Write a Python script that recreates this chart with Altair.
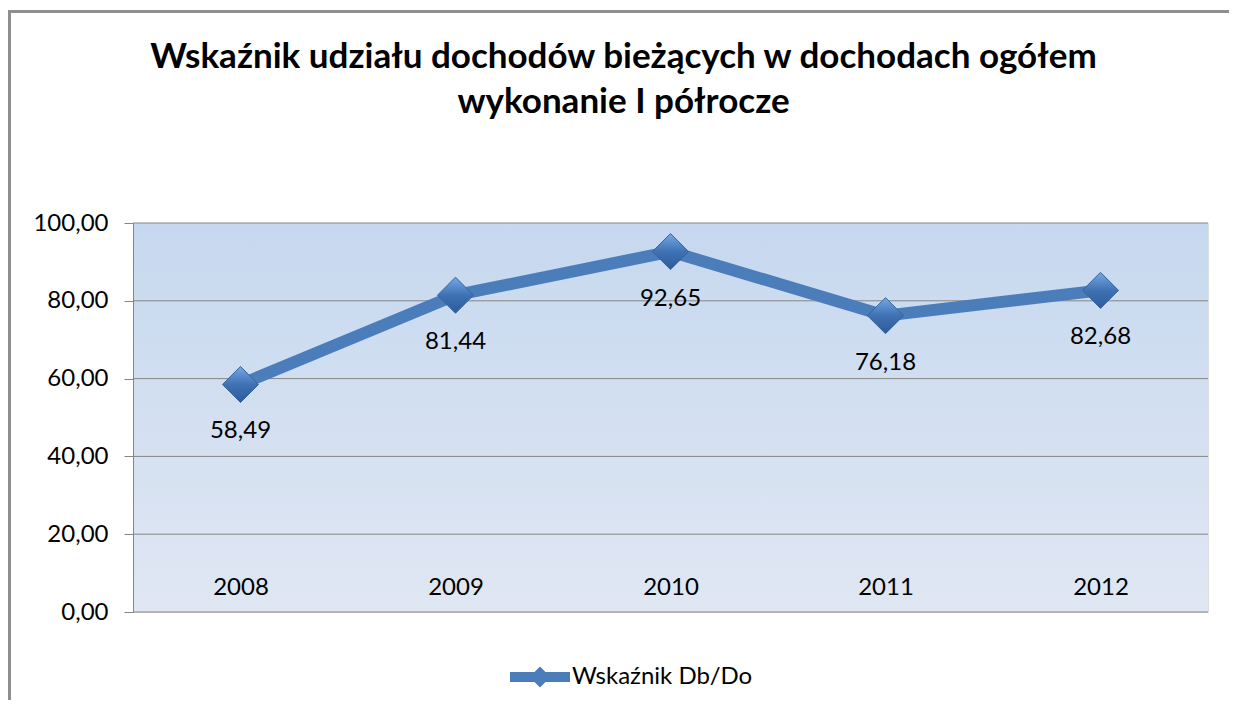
import altair as alt
import pandas as pd

years = ["2008", "2009", "2010", "2011", "2012"]
values = [58.49, 81.44, 92.65, 76.18, 82.68]
labels = ["58,49", "81,44", "92,65", "76,18", "82,68"]
series_name = "Wskaźnik Db/Do"
grid_values = [0, 20, 40, 60, 80, 100]
title_lines = ["Wskaźnik udziału dochodów bieżących w dochodach ogółem", "wykonanie I półrocze"]

df = pd.DataFrame({"year": years, "value": values, "label": labels, "series": [series_name] * len(years)})
grid_df = pd.DataFrame({"g": grid_values})
bg_df = pd.DataFrame({"top": [100], "bottom": [0]})
one = pd.DataFrame({"a": [0]})

W, H = 1075, 389
FONT = "Lato"
LINE_COLOR = "#4A7DBA"
FS = 24

yscale = alt.Scale(domain=[0, 100])

bg = alt.Chart(bg_df).mark_rect(
    color=alt.LinearGradient(
        gradient="linear",
        stops=[alt.GradientStop(color="#C6D8EF", offset=0), alt.GradientStop(color="#E0E7F3", offset=1)],
        x1=0, x2=0, y1=0, y2=1,
    )
).encode(x=alt.value(0), x2=alt.value(W), y=alt.Y("top:Q", scale=yscale), y2="bottom:Q")

grid = alt.Chart(grid_df).mark_rule(color="#868686", strokeWidth=1).encode(
    y=alt.Y("g:Q", scale=yscale), x=alt.value(0), x2=alt.value(W)
)

base = alt.Chart(df)
x_enc = alt.X(
    "year:N",
    scale=alt.Scale(domain=years),
    axis=alt.Axis(
        title=None, ticks=False, domain=False, grid=False, labelAngle=0,
        labelFont=FONT, labelFontSize=FS, labelColor="#000000",
        labelPadding=-25, labelBaseline="middle", zindex=1,
    ),
)
y_enc = alt.Y(
    "value:Q",
    scale=yscale,
    axis=alt.Axis(
        title=None, values=grid_values, grid=False, domain=True, domainColor="#868686",
        ticks=True, tickSize=9, tickColor="#868686", labelPadding=16,
        labelFont=FONT, labelFontSize=FS, labelColor="#000000", zindex=1,
        labelExpr="replace(format(datum.value, '.2f'), '.', ',')",
    ),
)

symbol_path = ("M-1,-0.167 L-0.183,-0.167 L0,-0.35 L0.183,-0.167 L1,-0.167 L1,0.167 "
               "L0.183,0.167 L0,0.35 L-0.183,0.167 L-1,0.167 Z")

line = base.mark_line(strokeWidth=12, strokeCap="round", strokeJoin="round").encode(
    x=x_enc, y=y_enc,
    color=alt.Color(
        "series:N",
        scale=alt.Scale(range=[LINE_COLOR]),
        legend=alt.Legend(
            title=None, orient="none", legendX=377, legendY=424, padding=0,
            symbolType=symbol_path, symbolSize=3600, symbolFillColor=LINE_COLOR,
            symbolStrokeColor=LINE_COLOR, symbolStrokeWidth=0, labelOffset=2,
            labelFont=FONT, labelFontSize=FS, labelColor="#000000", symbolOpacity=1,
            labelLimit=0,
        ),
    ),
)

points = base.mark_point(
    shape="diamond", size=1300, filled=True, opacity=1,
    fill=alt.LinearGradient(
        gradient="linear",
        stops=[alt.GradientStop(color="#76A8E6", offset=0), alt.GradientStop(color="#3F72B4", offset=0.5),
               alt.GradientStop(color="#2C5B98", offset=1)],
        x1=0, x2=0, y1=0, y2=1,
    ),
    stroke="#35649F", strokeWidth=1,
).encode(x="year:N", y="value:Q")

text = base.mark_text(dy=47, font=FONT, fontSize=FS, color="#000000", baseline="middle").encode(
    x="year:N", y="value:Q", text="label:N"
)

frame_left = alt.Chart(one).mark_rule(color="#8E8E8E", strokeWidth=3).encode(
    x=alt.value(-123.5), y=alt.value(-213), y2=alt.value(480)
)
frame_top = alt.Chart(one).mark_rule(color="#8E8E8E", strokeWidth=3).encode(
    x=alt.value(-125), x2=alt.value(1100), y=alt.value(-211.5)
)

chart = alt.layer(bg, grid, line, points, text, frame_left, frame_top).properties(
    width=W, height=H,
    title=alt.TitleParams(
        text=title_lines, font=FONT, fontSize=35, fontWeight="bold", color="#000000",
        anchor="middle", dx=-47, offset=-111, lineHeight=45,
    ),
    padding={"left": 125, "top": 215, "right": 21, "bottom": 88},
    autosize=alt.AutoSizeParams(type="none"),
).configure_view(stroke=None).configure(background="#FFFFFF")

chart.save("out.html", embed_options={"renderer": "svg", "actions": False})
